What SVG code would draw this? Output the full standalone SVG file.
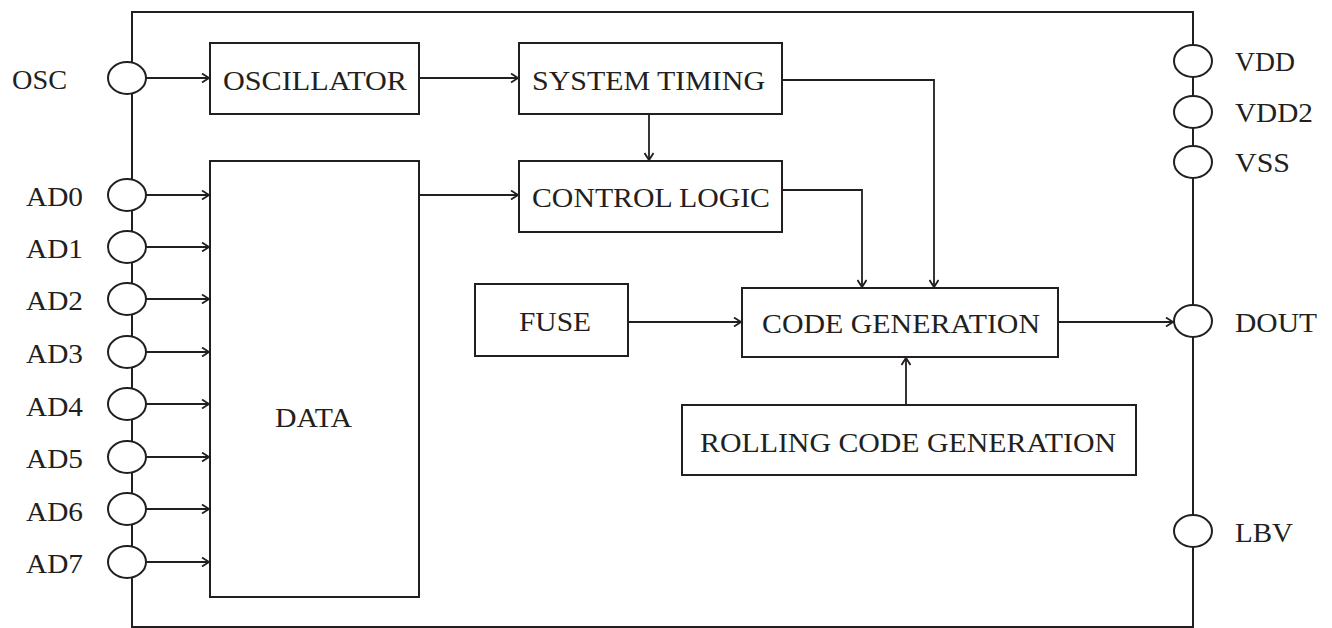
<svg xmlns="http://www.w3.org/2000/svg" width="1332" height="628" viewBox="0 0 1332 628">
<style>
.box{fill:#fff;stroke:#231f20;stroke-width:2}
.pin{fill:#fff;stroke:#231f20;stroke-width:2}
.frame{fill:none;stroke:#231f20;stroke-width:2}
.c{fill:none;stroke:#231f20;stroke-width:1.8}
.t{font-family:"Liberation Serif","Times New Roman",serif;font-size:27px;fill:#231f20}
</style>
<defs>
<marker id="ah" markerWidth="10" markerHeight="10" refX="8" refY="5" orient="auto" markerUnits="userSpaceOnUse">
<path d="M1,0.5 L8,5 L1,9.5" fill="none" stroke="#231f20" stroke-width="1.8"/>
</marker>
</defs>
<rect class="frame" x="132" y="12" width="1061" height="615"/>
<g id="connectors">
<line class="c" x1="146" y1="78" x2="209" y2="78" marker-end="url(#ah)"/>
<line class="c" x1="146" y1="195" x2="209" y2="195" marker-end="url(#ah)"/>
<line class="c" x1="146" y1="247" x2="209" y2="247" marker-end="url(#ah)"/>
<line class="c" x1="146" y1="299" x2="209" y2="299" marker-end="url(#ah)"/>
<line class="c" x1="146" y1="352" x2="209" y2="352" marker-end="url(#ah)"/>
<line class="c" x1="146" y1="404" x2="209" y2="404" marker-end="url(#ah)"/>
<line class="c" x1="146" y1="457" x2="209" y2="457" marker-end="url(#ah)"/>
<line class="c" x1="146" y1="509" x2="209" y2="509" marker-end="url(#ah)"/>
<line class="c" x1="146" y1="562" x2="209" y2="562" marker-end="url(#ah)"/>
<line class="c" x1="419" y1="78" x2="518" y2="78" marker-end="url(#ah)"/>
<line class="c" x1="419" y1="195" x2="518" y2="195" marker-end="url(#ah)"/>
<line class="c" x1="649" y1="114" x2="649" y2="160" stroke-width="3" marker-end="url(#ah)"/>
<polyline class="c" points="782,80 934,80 934,287" marker-end="url(#ah)"/>
<polyline class="c" points="782,190 862,190 862,287" marker-end="url(#ah)"/>
<line class="c" x1="628" y1="322" x2="741" y2="322" marker-end="url(#ah)"/>
<line class="c" x1="906" y1="405" x2="906" y2="358" marker-end="url(#ah)"/>
<line class="c" x1="1058" y1="322" x2="1173" y2="322" marker-end="url(#ah)"/>
</g>
<g id="pin-osc"><ellipse class="pin" cx="127" cy="78" rx="19" ry="16"/><text class="t" x="12" y="89" textLength="55" lengthAdjust="spacingAndGlyphs">OSC</text></g>
<g id="pin-ad0"><ellipse class="pin" cx="127" cy="195" rx="19" ry="16"/><text class="t" x="26" y="206" textLength="57" lengthAdjust="spacingAndGlyphs">AD0</text></g>
<g id="pin-ad1"><ellipse class="pin" cx="127" cy="247" rx="19" ry="16"/><text class="t" x="26" y="258" textLength="57" lengthAdjust="spacingAndGlyphs">AD1</text></g>
<g id="pin-ad2"><ellipse class="pin" cx="127" cy="299" rx="19" ry="16"/><text class="t" x="26" y="310" textLength="57" lengthAdjust="spacingAndGlyphs">AD2</text></g>
<g id="pin-ad3"><ellipse class="pin" cx="127" cy="352" rx="19" ry="16"/><text class="t" x="26" y="363" textLength="57" lengthAdjust="spacingAndGlyphs">AD3</text></g>
<g id="pin-ad4"><ellipse class="pin" cx="127" cy="404" rx="19" ry="16"/><text class="t" x="26" y="416" textLength="57" lengthAdjust="spacingAndGlyphs">AD4</text></g>
<g id="pin-ad5"><ellipse class="pin" cx="127" cy="457" rx="19" ry="16"/><text class="t" x="26" y="468" textLength="57" lengthAdjust="spacingAndGlyphs">AD5</text></g>
<g id="pin-ad6"><ellipse class="pin" cx="127" cy="509" rx="19" ry="16"/><text class="t" x="26" y="521" textLength="57" lengthAdjust="spacingAndGlyphs">AD6</text></g>
<g id="pin-ad7"><ellipse class="pin" cx="127" cy="562" rx="19" ry="16"/><text class="t" x="26" y="573" textLength="57" lengthAdjust="spacingAndGlyphs">AD7</text></g>
<g id="pin-vdd"><ellipse class="pin" cx="1193" cy="61" rx="19" ry="16"/><text class="t" x="1235" y="71" textLength="60" lengthAdjust="spacingAndGlyphs">VDD</text></g>
<g id="pin-vdd2"><ellipse class="pin" cx="1193" cy="112" rx="19" ry="16"/><text class="t" x="1235" y="122" textLength="78" lengthAdjust="spacingAndGlyphs">VDD2</text></g>
<g id="pin-vss"><ellipse class="pin" cx="1193" cy="162" rx="19" ry="16"/><text class="t" x="1235" y="172" textLength="55" lengthAdjust="spacingAndGlyphs">VSS</text></g>
<g id="pin-dout"><ellipse class="pin" cx="1193" cy="321" rx="19" ry="16"/><text class="t" x="1235" y="332" textLength="82" lengthAdjust="spacingAndGlyphs">DOUT</text></g>
<g id="pin-lbv"><ellipse class="pin" cx="1193" cy="531" rx="19" ry="16"/><text class="t" x="1235" y="542" textLength="58" lengthAdjust="spacingAndGlyphs">LBV</text></g>
<g id="oscillator"><rect class="box" x="210" y="43" width="209" height="71"/><text class="t" x="223" y="90" textLength="184" lengthAdjust="spacingAndGlyphs">OSCILLATOR</text></g>
<g id="system-timing"><rect class="box" x="519" y="43" width="263" height="71"/><text class="t" x="532" y="90" textLength="233" lengthAdjust="spacingAndGlyphs">SYSTEM TIMING</text></g>
<g id="control-logic"><rect class="box" x="519" y="161" width="263" height="71"/><text class="t" x="532" y="207" textLength="238" lengthAdjust="spacingAndGlyphs">CONTROL LOGIC</text></g>
<g id="data"><rect class="box" x="210" y="161" width="209" height="436"/><text class="t" x="275" y="427" textLength="77" lengthAdjust="spacingAndGlyphs">DATA</text></g>
<g id="fuse"><rect class="box" x="475" y="284" width="153" height="72"/><text class="t" x="519" y="331" textLength="72" lengthAdjust="spacingAndGlyphs">FUSE</text></g>
<g id="code-generation"><rect class="box" x="742" y="288" width="316" height="69"/><text class="t" x="762" y="333" textLength="278" lengthAdjust="spacingAndGlyphs">CODE GENERATION</text></g>
<g id="rolling-code-generation"><rect class="box" x="682" y="405" width="454" height="70"/><text class="t" x="700" y="452" textLength="416" lengthAdjust="spacingAndGlyphs">ROLLING CODE GENERATION</text></g>
</svg>
